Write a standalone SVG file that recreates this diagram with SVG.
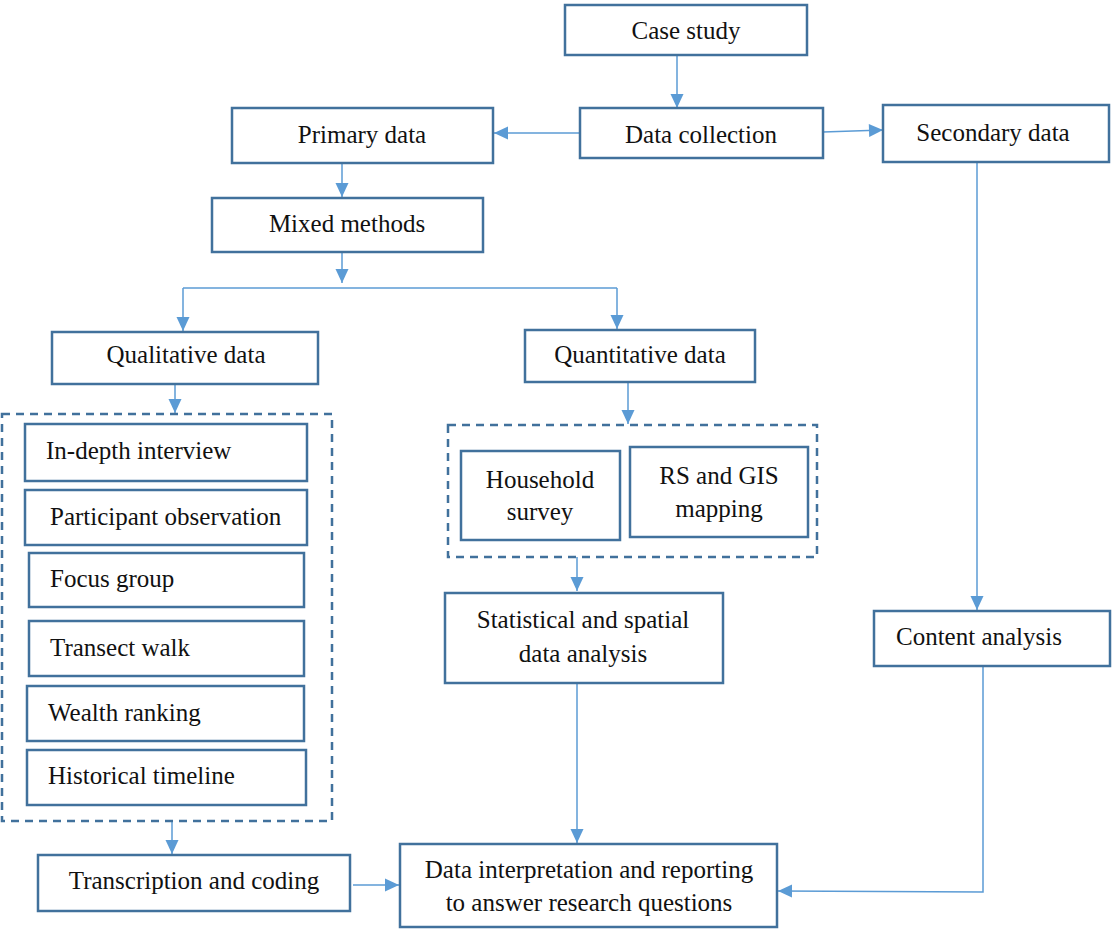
<svg xmlns="http://www.w3.org/2000/svg" width="1112" height="929" viewBox="0 0 1112 929">
  <style>
    .box { fill: #ffffff; stroke: #41719C; stroke-width: 2.5; }
    .group { fill: none; stroke: #41719C; stroke-width: 2.5; stroke-dasharray: 8 6; }
    .link { fill: none; stroke: #5B9BD5; stroke-width: 1.5; }
    .arrow { fill: none; stroke: #5B9BD5; stroke-width: 1.5; marker-end: url(#head); }
    text { font-family: "Liberation Serif", "Times New Roman", serif; font-size: 25px; fill: #111111; }
    .c { text-anchor: middle; }
  </style>
  <defs>
    <marker id="head" markerUnits="userSpaceOnUse" markerWidth="16" markerHeight="16" viewBox="0 0 16 16" refX="15" refY="8" orient="auto">
      <path d="M1,1.5 L15,8 L1,14.5 Z" fill="#5B9BD5"/>
    </marker>
  </defs>
  <rect width="1112" height="929" fill="#ffffff"/>

  <!-- connectors -->
  <g id="connectors">
    <line class="arrow" x1="677" y1="55" x2="677" y2="108"/>
    <line class="arrow" x1="580" y1="133" x2="494" y2="133"/>
    <line class="arrow" x1="823" y1="132" x2="883" y2="130"/>
    <line class="arrow" x1="342" y1="163" x2="342" y2="197"/>
    <line class="arrow" x1="342" y1="252" x2="342" y2="283"/>
    <polyline class="link" points="183,288 617,288"/>
    <line class="arrow" x1="183" y1="288" x2="183" y2="331"/>
    <line class="arrow" x1="617" y1="288" x2="617" y2="329"/>
    <line class="arrow" x1="175" y1="384" x2="175" y2="413"/>
    <line class="arrow" x1="628" y1="382" x2="628" y2="424"/>
    <line class="arrow" x1="577" y1="557" x2="577" y2="591"/>
    <line class="arrow" x1="577" y1="683" x2="577" y2="843"/>
    <line class="arrow" x1="977" y1="162" x2="977" y2="610"/>
    <polyline class="arrow" points="983,666 983,892 778,891"/>
    <line class="arrow" x1="172" y1="822" x2="172" y2="854"/>
    <line class="arrow" x1="353" y1="885" x2="399" y2="885"/>
  </g>

  <g id="case-study">
    <rect class="box" x="565" y="5" width="242" height="50"/>
    <text class="c" x="686" y="39">Case study</text>
  </g>
  <g id="data-collection">
    <rect class="box" x="580" y="108" width="243" height="50"/>
    <text class="c" x="701" y="143">Data collection</text>
  </g>
  <g id="primary-data">
    <rect class="box" x="232" y="108" width="261" height="55"/>
    <text class="c" x="362" y="143">Primary data</text>
  </g>
  <g id="secondary-data">
    <rect class="box" x="883" y="105" width="226" height="57"/>
    <text class="c" x="993" y="141">Secondary data</text>
  </g>
  <g id="mixed-methods">
    <rect class="box" x="212" y="198" width="271" height="54"/>
    <text class="c" x="347" y="232">Mixed methods</text>
  </g>
  <g id="qualitative-data">
    <rect class="box" x="52" y="332" width="266" height="52"/>
    <text class="c" x="186" y="363">Qualitative data</text>
  </g>
  <g id="quantitative-data">
    <rect class="box" x="525" y="330" width="230" height="52"/>
    <text class="c" x="640" y="363">Quantitative data</text>
  </g>

  <g id="qualitative-methods">
    <rect class="group" x="2" y="414" width="330" height="407"/>
    <g id="in-depth-interview">
      <rect class="box" x="25" y="424" width="282" height="57"/>
      <text x="46" y="459">In-depth interview</text>
    </g>
    <g id="participant-observation">
      <rect class="box" x="25" y="490" width="282" height="55"/>
      <text x="50" y="525">Participant observation</text>
    </g>
    <g id="focus-group">
      <rect class="box" x="29" y="553" width="275" height="54"/>
      <text x="50" y="587">Focus group</text>
    </g>
    <g id="transect-walk">
      <rect class="box" x="29" y="621" width="275" height="55"/>
      <text x="50" y="656">Transect walk</text>
    </g>
    <g id="wealth-ranking">
      <rect class="box" x="27" y="686" width="277" height="55"/>
      <text x="48" y="721">Wealth ranking</text>
    </g>
    <g id="historical-timeline">
      <rect class="box" x="27" y="750" width="279" height="55"/>
      <text x="48" y="784">Historical timeline</text>
    </g>
  </g>

  <g id="quantitative-methods">
    <rect class="group" x="448" y="425" width="369" height="132"/>
    <g id="household-survey">
      <rect class="box" x="461" y="451" width="159" height="89"/>
      <text class="c" x="540" y="488">Household</text>
      <text class="c" x="540" y="520">survey</text>
    </g>
    <g id="rs-gis-mapping">
      <rect class="box" x="630" y="447" width="178" height="90"/>
      <text class="c" x="719" y="484">RS and GIS</text>
      <text class="c" x="719" y="517">mapping</text>
    </g>
  </g>

  <g id="statistical-analysis">
    <rect class="box" x="445" y="593" width="278" height="90"/>
    <text class="c" x="583" y="628">Statistical and spatial</text>
    <text class="c" x="583" y="662">data analysis</text>
  </g>
  <g id="content-analysis">
    <rect class="box" x="874" y="611" width="236" height="55"/>
    <text x="896" y="645">Content analysis</text>
  </g>
  <g id="transcription-coding">
    <rect class="box" x="38" y="855" width="312" height="56"/>
    <text class="c" x="194" y="889">Transcription and coding</text>
  </g>
  <g id="data-interpretation">
    <rect class="box" x="400" y="844" width="377" height="83"/>
    <text class="c" x="589" y="878">Data interpretation and reporting</text>
    <text class="c" x="589" y="911">to answer research questions</text>
  </g>
</svg>
